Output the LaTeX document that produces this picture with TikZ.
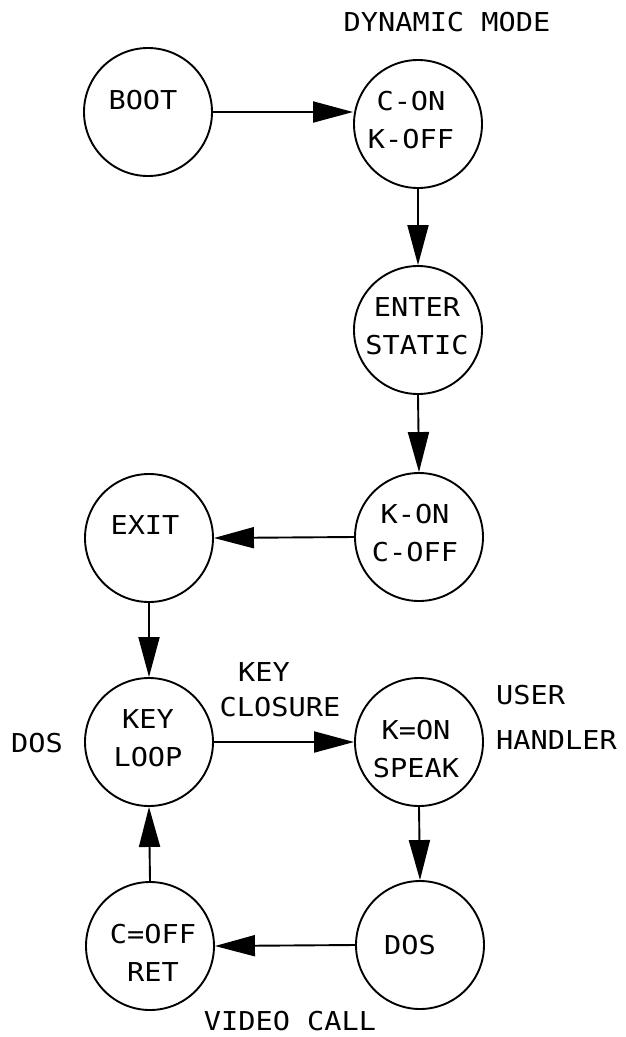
\documentclass[tikz,border=0pt]{standalone}
\usepackage{fontspec}
\usetikzlibrary{arrows.meta}
\newfontfamily\plotfont[FakeStretch=1.1]{DejaVu Sans Mono}
\tikzset{
  state/.style={circle, draw, line width=1.9pt, minimum size=128pt, inner sep=0pt},
  txt/.style={font=\plotfont\fontsize{26}{38}\selectfont, align=center, inner sep=0pt},
  arr/.style={line width=1.9pt, -{Triangle[length=40pt,width=21pt]}}
}
\begin{document}
\begin{tikzpicture}[x=1pt,y=-1pt]
\useasboundingbox (0,0) rectangle (626,1037);

% states
\node[state] (boot)  at (148,112) {};
\node[state] (con)   at (418,124) {};
\node[state] (enter) at (418,330) {};
\node[state] (kon)   at (419,537) {};
\node[state] (exit)  at (149,538) {};
\node[state] (loop)  at (149,742) {};
\node[state] (speak) at (419,742) {};
\node[state] (dos)   at (420,945) {};
\node[state] (ret)   at (150,946) {};

% state texts
\node[txt] (boot-t)  at (143,100) {BOOT};
\node[txt] (con-t)   at (411,120) {C-ON\\K-OFF};
\node[txt] (enter-t) at (417,326) {ENTER\\STATIC};
\node[txt] (kon-t)   at (415,533) {K-ON\\C-OFF};
\node[txt] (exit-t)  at (145,525) {EXIT};
\node[txt] (loop-t)  at (148,738) {KEY\\LOOP};
\node[txt] (speak-t) at (416,749) {K=ON\\SPEAK};
\node[txt] (dos-t)   at (410,945) {DOS};
\node[txt] (ret-t)   at (153,953) {C=OFF\\RET};

% free labels
\node[txt] (mode)    at (447,22)  {DYNAMIC MODE};
\node[txt] (key)     at (264,672) {KEY};
\node[txt] (closure) at (280,707) {CLOSURE};
\node[txt, anchor=west] (user)    at (496,695) {USER};
\node[txt, anchor=west] (handler) at (496,740) {HANDLER};
\node[txt] (dosl)    at (37,743)  {DOS};
\node[txt] (video)   at (290,1021) {VIDEO CALL};

% transitions
\draw[arr] (boot.east) -- (boot.east -| con.west);
\draw[arr] (con.south) -- (enter.north);
\draw[arr] (enter.south) -- (kon.north);
\draw[arr] (kon.west) -- (exit.east);
\draw[arr] (exit.south) -- (loop.north);
\draw[arr] (loop.east) -- (speak.west);
\draw[arr] (speak.south) -- (dos.north);
\draw[arr] (dos.west) -- (ret.east);
\draw[arr] (ret.north) -- (loop.south);
\end{tikzpicture}
\end{document}
